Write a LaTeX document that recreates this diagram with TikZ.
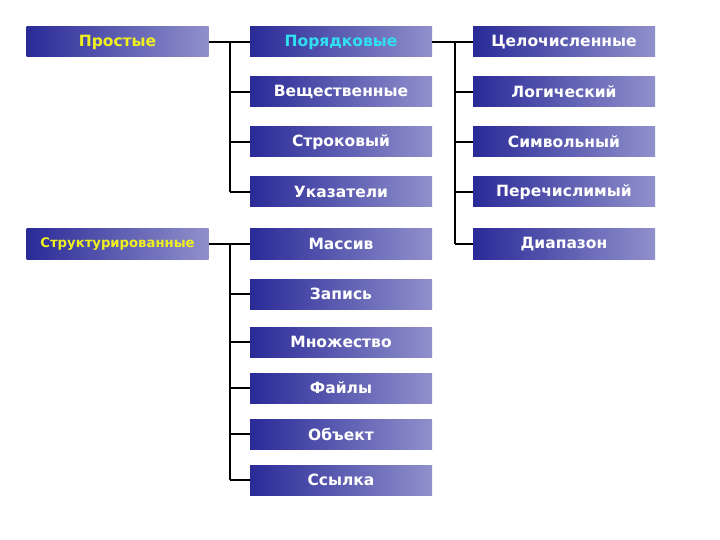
\documentclass[tikz,border=0pt]{standalone}
\usepackage{fontspec}
\setmainfont{DejaVu Sans}
\begin{document}
\begin{tikzpicture}[x=1pt,y=-1pt,
  box/.style={rectangle, minimum width=182pt, minimum height=30pt, inner sep=0pt,
    left color=boxL, right color=boxR, text=white, font=\fontsize{15.5}{17}\selectfont\bfseries},
  link/.style={draw=black, line width=1.4pt}]
\definecolor{boxL}{HTML}{2A2A98}
\definecolor{boxR}{HTML}{9090CC}
\definecolor{yel}{HTML}{F0F020}
\definecolor{cya}{HTML}{30E0F0}
\useasboundingbox (0,0) rectangle (720,540);
% column 1
\node[box, text=yel] (p) at (117.5,42) {Простые};
\node[box, text=yel, font=\fontsize{13.2}{15}\selectfont\bfseries] (s) at (117.5,244) {Структурированные};
% column 2
\node[box, text=cya] (por) at (341,42) {Порядковые};
\node[box] (vesh) at (341,92) {Вещественные};
\node[box] (str) at (341,142) {Строковый};
\node[box] (uk) at (341,192) {Указатели};
\node[box] (mas) at (341,244) {Массив};
\node[box] (zap) at (341,294) {Запись};
\node[box] (mn) at (341,342) {Множество};
\node[box] (f) at (341,388) {Файлы};
\node[box] (ob) at (341,434) {Объект};
\node[box] (ss) at (341,480) {Ссылка};
% column 3
\node[box] (cel) at (564,42) {Целочисленные};
\node[box] (log) at (564,92) {Логический};
\node[box] (sim) at (564,142) {Символьный};
\node[box] (per) at (564,192) {Перечислимый};
\node[box] (dia) at (564,244) {Диапазон};
% buses
\coordinate (b1) at (230,42);
\coordinate (b1e) at (230,192);
\coordinate (b2) at (455,42);
\coordinate (b2e) at (455,244);
\coordinate (b3) at (230,244);
\coordinate (b3e) at (230,480);
\draw[link] (p.east) -- (por.west);
\draw[link] (b1) -- (b1e);
\foreach \n in {vesh,str,uk} \draw[link] (b1 |- \n.west) -- (\n.west);
\draw[link] (por.east) -- (cel.west);
\draw[link] (b2) -- (b2e);
\foreach \n in {log,sim,per,dia} \draw[link] (b2 |- \n.west) -- (\n.west);
\draw[link] (s.east) -- (mas.west);
\draw[link] (b3) -- (b3e);
\foreach \n in {zap,mn,f,ob,ss} \draw[link] (b3 |- \n.west) -- (\n.west);
\end{tikzpicture}
\end{document}
